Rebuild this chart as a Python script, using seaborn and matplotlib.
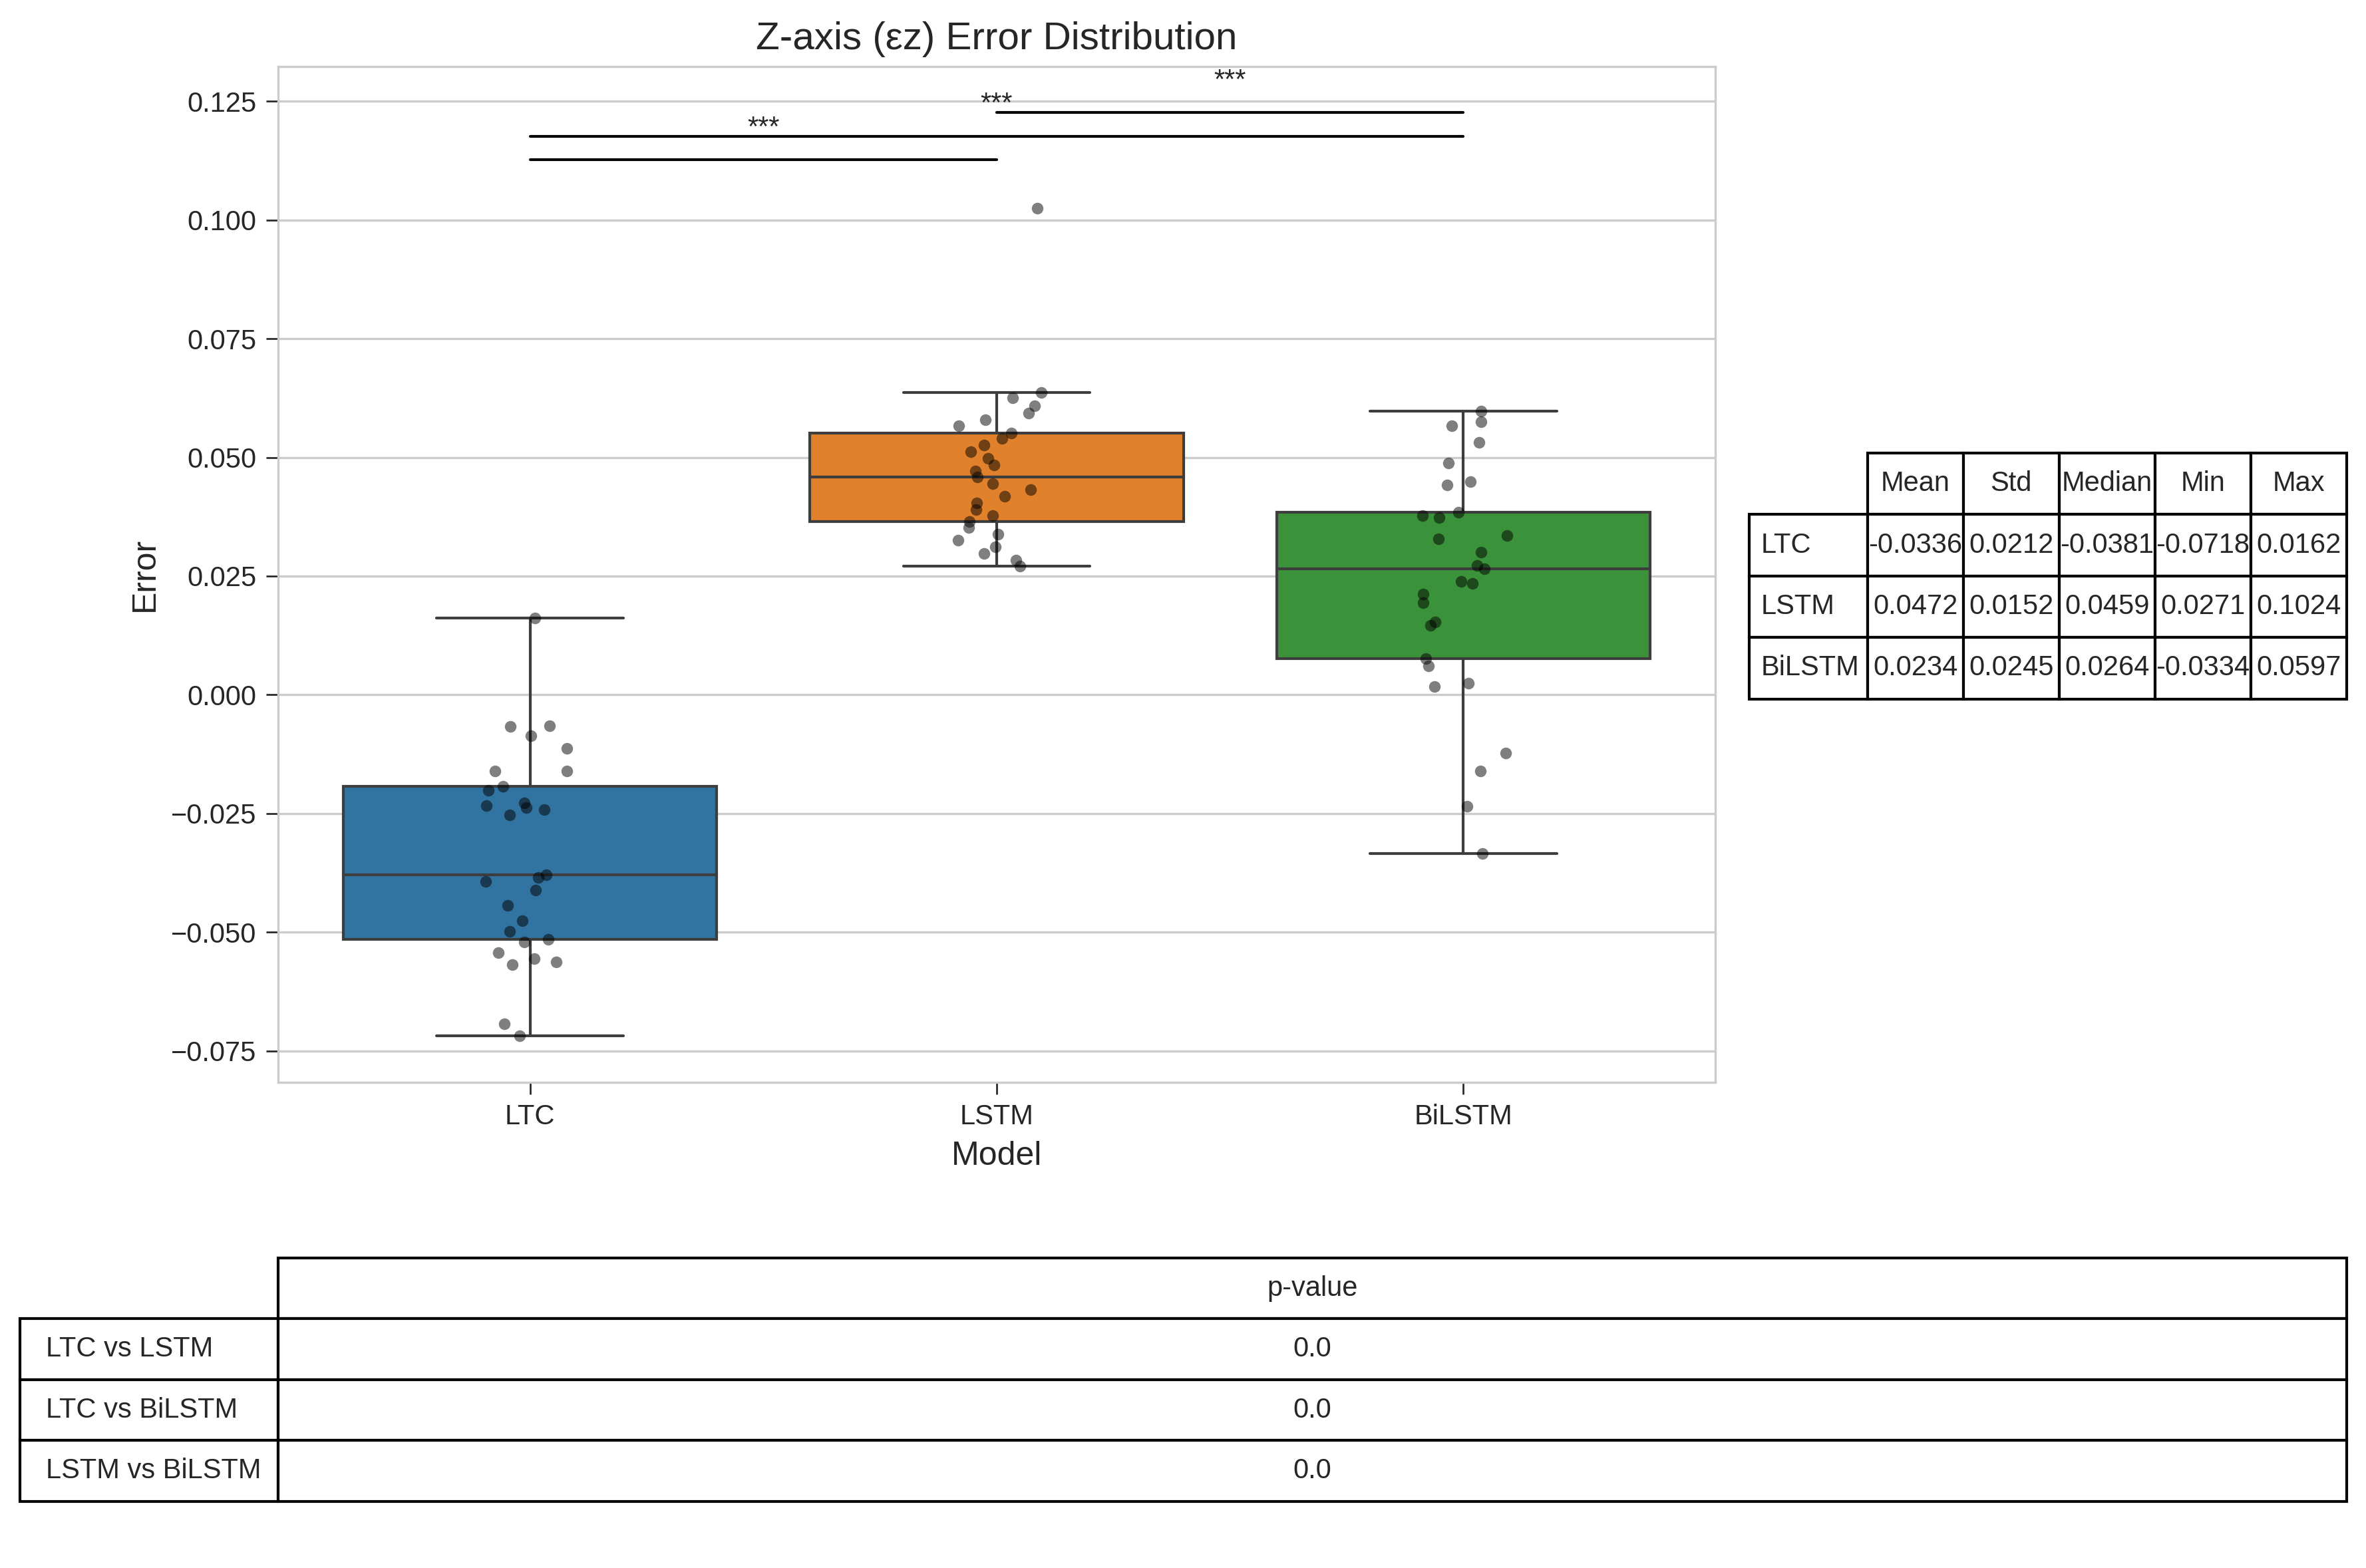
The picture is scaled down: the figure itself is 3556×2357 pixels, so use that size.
import numpy as np
import pandas as pd
import matplotlib
matplotlib.use("Agg")
import matplotlib.pyplot as plt
import seaborn as sns
from matplotlib.table import Table

# Error samples
models = ["LTC", "LSTM", "BiLSTM"]
ltc_err = [0.0162, -0.0065, -0.0066, -0.0086, -0.0113, -0.0160, -0.0160, -0.0193,
           -0.0201, -0.0227, -0.0233, -0.0238, -0.0242, -0.0253, -0.0379, -0.0384,
           -0.0393, -0.0411, -0.0444, -0.0476, -0.0498, -0.0515, -0.0520, -0.0543,
           -0.0556, -0.0563, -0.0568, -0.0693, -0.0718]
lstm_err = [0.1024, 0.0637, 0.0625, 0.0609, 0.0593, 0.0579, 0.0566, 0.0551,
            0.0540, 0.0526, 0.0512, 0.0498, 0.0484, 0.0471, 0.0459, 0.0445,
            0.0432, 0.0418, 0.0404, 0.0390, 0.0377, 0.0365, 0.0352, 0.0338,
            0.0326, 0.0311, 0.0297, 0.0284, 0.0271]
bilstm_err = [0.0597, 0.0575, 0.0567, 0.0532, 0.0488, 0.0449, 0.0442, 0.0384,
              0.0378, 0.0373, 0.0336, 0.0328, 0.0301, 0.0272, 0.0265, 0.0239,
              0.0234, 0.0212, 0.0194, 0.0154, 0.0147, 0.0076, 0.0061, 0.0025,
              0.0017, -0.0122, -0.0160, -0.0235, -0.0334]

# summary table
stat_cols = ["Mean", "Std", "Median", "Min", "Max"]
ltc_stats = ["-0.0336", "0.0212", "-0.0381", "-0.0718", "0.0162"]
lstm_stats = ["0.0472", "0.0152", "0.0459", "0.0271", "0.1024"]
bilstm_stats = ["0.0234", "0.0245", "0.0264", "-0.0334", "0.0597"]

# pairwise tests
pairs = [(0, 1), (0, 2), (1, 2)]
pair_names = ["LTC vs LSTM", "LTC vs BiLSTM", "LSTM vs BiLSTM"]
p_values = ["0.0", "0.0", "0.0"]
stars = ["***", "***", "***"]

df = pd.DataFrame({
    "Model": ["LTC"] * len(ltc_err) + ["LSTM"] * len(lstm_err) + ["BiLSTM"] * len(bilstm_err),
    "Error": ltc_err + lstm_err + bilstm_err,
})

sns.set_style("whitegrid")
plt.rcParams["font.family"] = ["Liberation Sans", "DejaVu Sans"]
np.random.seed(3)

W, H = 3556, 2357
fig = plt.figure(figsize=(W / 300, H / 300), dpi=300)
ax = fig.add_axes([418 / W, 1 - 1626.5 / H, 2160 / W, 1527 / H])

sns.boxplot(data=df, x="Model", y="Error", hue="Model", order=models,
            palette="tab10", showfliers=False, legend=False, ax=ax)
sns.stripplot(data=df, x="Model", y="Error", order=models, color="black",
              alpha=0.5, size=4.2, ax=ax)

# significance bars
y0 = df["Error"].max() * 1.1
for i, ((a, b), s) in enumerate(zip(pairs, stars)):
    y = y0 + i * 0.005
    ax.plot([a, b], [y, y], color="k", lw=1)
    ax.text((a + b) / 2, y + 0.0038, s, ha="center", va="bottom", fontsize=10)

ax.tick_params(left=True, bottom=True, length=4.25, width=0.65, labelsize=10)
ax.set_title("Z-axis (εz) Error Distribution", fontsize=14)
ax.set_xlabel("Model", fontsize=12)
ax.set_ylabel("Error", fontsize=12)

# stats table on the right
stats_rows = [ltc_stats, lstm_stats, bilstm_stats]
t1 = Table(ax, bbox=[1.0236, 0.3772, 0.4157, 0.2420])
lw_, dw_ = 177.6, 144.0
for j, c in enumerate(stat_cols):
    t1.add_cell(0, j + 1, dw_, 1, text=c, loc="center")
for i, (name, row) in enumerate(zip(models, stats_rows)):
    t1.add_cell(i + 1, 0, lw_, 1, text=name, loc="left")
    for j, v in enumerate(row):
        t1.add_cell(i + 1, j + 1, dw_, 1, text=v, loc="center")
t1.auto_set_font_size(False)
t1.set_fontsize(10)
ax.add_table(t1)

# p-value table below
t2 = Table(ax, bbox=[-0.1794, -0.4129, 1.6188, 0.2397])
t2.add_cell(0, 1, 3109, 1, text="p-value", loc="center")
for i, (name, p) in enumerate(zip(pair_names, p_values)):
    t2.add_cell(i + 1, 0, 387.4, 1, text=name, loc="left")
    t2.add_cell(i + 1, 1, 3109, 1, text=p, loc="center")
t2.auto_set_font_size(False)
t2.set_fontsize(10)
ax.add_table(t2)

fig.savefig("out.png", dpi=300)
